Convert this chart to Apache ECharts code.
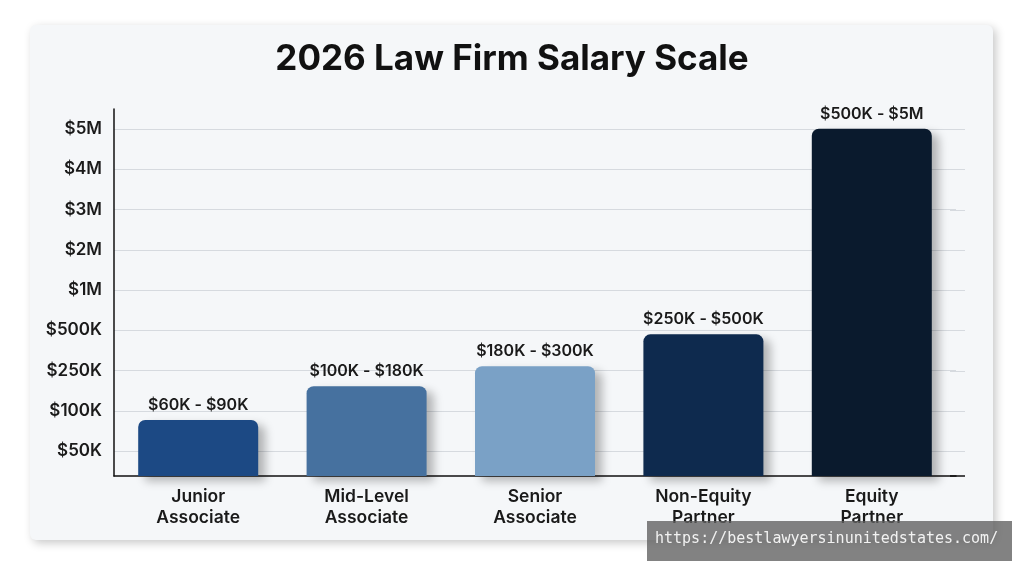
<!DOCTYPE html>
<html>
<head>
    <meta charset="utf-8">
    <title>2026 Law Firm Salary Scale</title>
    <script src="https://cdn.jsdelivr.net/npm/echarts@6/dist/echarts.min.js"></script>
    <style>
        html, body { margin: 0; padding: 0; background: #ffffff; }
        #main { width: 1024px; height: 572px; }
    </style>
</head>
<body>
    <div id="main"></div>
    <script type="text/javascript">

        // roles on the x axis
        var roles = ['Junior\nAssociate', 'Mid-Level\nAssociate', 'Senior\nAssociate', 'Non-Equity\nPartner', 'Equity\nPartner'];
        // salary range text shown over each bar
        var rangeLabels = ['$60K - $90K', '$100K - $180K', '$180K - $300K', '$250K - $500K', '$500K - $5M'];
        // the y axis is evenly spaced steps, not linear money: 1 = $50K ... 9 = $5M
        var tickLabels = ['$50K', '$100K', '$250K', '$500K', '$1M', '$2M', '$3M', '$4M', '$5M'];
        var tickSteps = [1, 2, 3, 4, 5, 6, 7, 8, 9];
        // bar heights, in those steps
        var barSteps = [1.77, 2.61, 3.11, 3.9, 9.01];
        var barColors = ['#1c4984', '#46719f', '#7aa1c6', '#0e2a4e', '#0a1a2d'];

        var myChart = echarts.init(document.getElementById('main'));

        var font = 'Inter, "Open Sans", sans-serif';

        var option = {
            backgroundColor: '#ffffff',
            animation: false,
            graphic: [
                {
                    type: 'rect',
                    z: -10,
                    shape: { x: 30, y: 25, width: 963, height: 515, r: 6 },
                    style: {
                        fill: '#f5f7f9',
                        shadowBlur: 10,
                        shadowColor: 'rgba(0,0,0,0.22)',
                        shadowOffsetX: 3,
                        shadowOffsetY: 3
                    }
                },
                {
                    // grid lines run a little past the last bar slot
                    type: 'group',
                    z: -5,
                    children: tickSteps.map(function (s) {
                        var y = Math.round(476 - (s - 0.38) * (367 / 9.12)) + 0.5;
                        return {
                            type: 'line',
                            shape: { x1: 950, y1: y, x2: 965, y2: y },
                            style: { stroke: '#d6dadf', lineWidth: 1 }
                        };
                    })
                },
                {
                    type: 'line',
                    shape: { x1: 950, y1: 476, x2: 965, y2: 476 },
                    style: { stroke: '#111111', lineWidth: 1.5 }
                },
                {
                    type: 'rect',
                    z: 100,
                    shape: { x: 647, y: 521, width: 365, height: 40 },
                    style: { fill: 'rgba(95,95,95,0.78)' }
                },
                {
                    type: 'text',
                    z: 101,
                    left: 655,
                    top: 532,
                    style: {
                        text: 'https://bestlawyersinunitedstates.com/',
                        fill: '#f2f2f2',
                        font: '15px "DejaVu Sans Mono", "Liberation Mono", monospace'
                    }
                }
            ],
            title: {
                text: '2026 Law Firm Salary Scale',
                left: 'center',
                top: 37,
                textStyle: {
                    fontFamily: font,
                    fontSize: 35,
                    fontWeight: 700,
                    color: '#111111'
                }
            },
            grid: {
                left: 114,
                right: 68,
                top: 109,
                bottom: 96
            },
            xAxis: {
                type: 'category',
                data: roles,
                axisLine: { lineStyle: { color: '#111111', width: 1.5 } },
                axisTick: { show: false },
                axisLabel: {
                    margin: 10,
                    fontFamily: font,
                    fontSize: 17.5,
                    fontWeight: 600,
                    lineHeight: 21,
                    color: '#1a1a1a'
                }
            },
            yAxis: {
                type: 'value',
                min: 0.38,
                max: 9.5,
                axisLine: { show: true, lineStyle: { color: '#111111', width: 1.5 } },
                axisTick: { show: false, customValues: tickSteps },
                splitLine: { show: true, lineStyle: { color: '#d6dadf', width: 1 } },
                axisLabel: {
                    customValues: tickSteps,
                    margin: 12,
                    fontFamily: font,
                    fontSize: 17,
                    fontWeight: 600,
                    color: '#1a1a1a',
                    formatter: function (v) {
                        var i = tickSteps.indexOf(v);
                        return i >= 0 ? tickLabels[i] : '';
                    }
                }
            },
            series: [
                {
                    type: 'bar',
                    barWidth: 120,
                    data: barSteps.map(function (v, i) {
                        return {
                            value: v,
                            itemStyle: { color: barColors[i] },
                            label: { formatter: rangeLabels[i] }
                        };
                    }),
                    itemStyle: {
                        borderRadius: [7, 7, 0, 0],
                        shadowBlur: 10,
                        shadowColor: 'rgba(0,0,0,0.28)',
                        shadowOffsetX: 7,
                        shadowOffsetY: 5
                    },
                    label: {
                        show: true,
                        position: 'top',
                        distance: 7,
                        fontFamily: font,
                        fontSize: 16,
                        fontWeight: 600,
                        color: '#1a1a1a'
                    }
                }
            ]
        };

        myChart.setOption(option);
    </script>
</body>
</html>
